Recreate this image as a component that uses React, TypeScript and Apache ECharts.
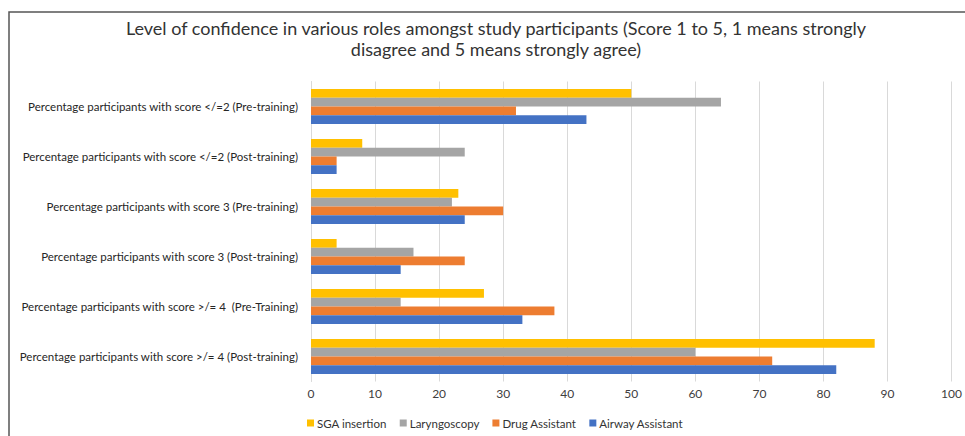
import React, { useEffect, useRef } from "react";
import * as echarts from "echarts";

const categories = [
  "Percentage participants with score </=2 (Pre-training)",
  "Percentage participants with score </=2 (Post-training)",
  "Percentage participants with score 3 (Pre-training)",
  "Percentage participants with score 3 (Post-training)",
  "Percentage participants with score >/= 4  (Pre-Training)",
  "Percentage participants with score >/= 4 (Post-training)",
];

const sgaInsertion = [50, 8, 23, 4, 27, 88];
const laryngoscopy = [64, 24, 22, 16, 14, 60];
const drugAssistant = [32, 4, 30, 24, 38, 72];
const airwayAssistant = [43, 4, 24, 14, 33, 82];

const seriesNames = ["SGA insertion", "Laryngoscopy", "Drug Assistant", "Airway Assistant"];
const seriesColors = ["#FFC000", "#A5A5A5", "#ED7D31", "#4472C4"];
const seriesValues = [sgaInsertion, laryngoscopy, drugAssistant, airwayAssistant];

const titleText =
  "Level of confidence in various roles amongst study participants (Score 1 to 5, 1 means strongly\ndisagree and 5 means strongly agree)";

const FONT = "Lato, 'Noto Sans', sans-serif";

export default function App() {
  const ref = useRef<HTMLDivElement>(null);
  useEffect(() => {
    document.body.style.margin = "0";
    if (!ref.current) return;
    const chart = echarts.init(ref.current, null, { renderer: "svg" });
    chart.setOption({
      animation: false,
      backgroundColor: "#ffffff",
      textStyle: { fontFamily: FONT },
      title: {
        text: titleText,
        left: 491,
        top: 12,
        textAlign: "center",
        textStyle: {
          fontFamily: FONT,
          fontSize: 18,
          fontWeight: "normal",
          color: "#333333",
          lineHeight: 21,
        },
      },
      legend: {
        data: seriesNames,
        left: 302,
        top: 412,
        icon: "rect",
        itemWidth: 7,
        itemHeight: 7,
        itemGap: 13,
        textStyle: { fontFamily: FONT, fontSize: 11.5, color: "#333333", padding: [0, 0, 0, -2] },
      },
      grid: { left: 311, right: 10, top: 81.5, bottom: 54.5, containLabel: false },
      xAxis: {
        type: "value",
        min: 0,
        max: 100,
        interval: 10,
        axisLine: { show: false },
        axisTick: { show: false },
        splitLine: { lineStyle: { color: "#D9D9D9", width: 1 } },
        axisLabel: { color: "#404040", fontSize: 12, margin: 6, fontFamily: FONT },
      },
      yAxis: {
        type: "category",
        data: categories,
        inverse: true,
        axisLine: { show: true, lineStyle: { color: "#D9D9D9" } },
        axisTick: { show: false },
        axisLabel: { color: "#262626", fontSize: 11.5, margin: 13, fontFamily: FONT },
      },
      series: seriesNames.map((name, i) => ({
        name,
        type: "bar",
        data: seriesValues[i],
        barGap: "0%",
        barCategoryGap: "30%",
        itemStyle: { color: seriesColors[i] },
      })),
      graphic: [
        {
          type: "polyline",
          shape: { points: [[9, 436], [9, 12], [965, 12]] },
          style: { stroke: "#555555", lineWidth: 1.5, fill: null },
        },
      ],
    });
    return () => chart.dispose();
  }, []);
  return <div ref={ref} style={{ width: 965, height: 436 }} />;
}
